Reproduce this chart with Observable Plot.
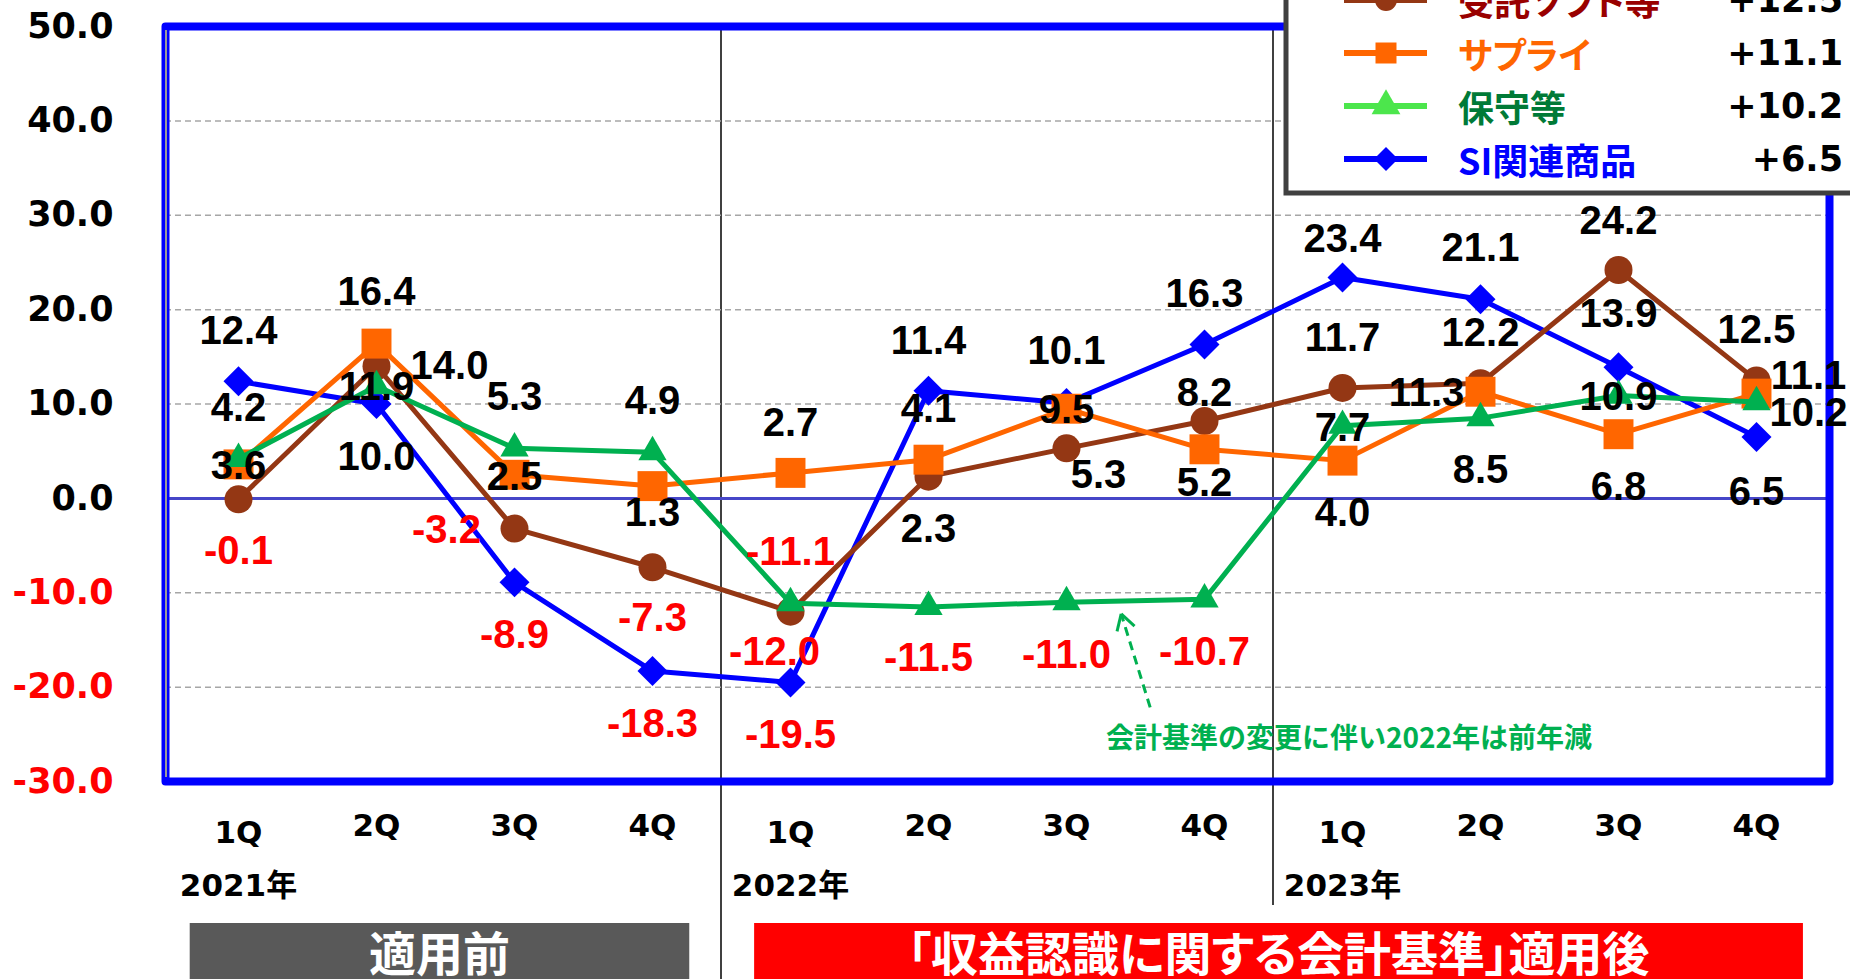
<!DOCTYPE html>
<html><head><meta charset="utf-8">
<script src="https://cdn.jsdelivr.net/npm/d3@7"></script>
<script src="https://cdn.jsdelivr.net/npm/@observablehq/plot@0.6"></script>
<style>
html,body{margin:0;padding:0;background:#fff;}
#chart{position:relative;width:1850px;height:979px;overflow:hidden;background:#fff;}
#chart svg{display:block;}
.palt{font-feature-settings:"palt" 1;}
</style></head><body><div id="chart"></div>
<script>
// ---------- data ----------
const years = ["2021年","2022年","2023年"];
const quarters = ["1Q","2Q","3Q","4Q"];
const seriesNames = ["受託ソフト等","サプライ","保守等","SI関連商品"];
const jutaku = [-0.1, 14.0, -3.2, -7.3, -12.0, 2.3, 5.3, 8.2, 11.7, 12.2, 24.2, 12.5];
const supply = [3.6, 16.4, 2.5, 1.3, 2.7, 4.1, 9.5, 5.2, 4.0, 11.3, 6.8, 11.1];
const hoshu  = [4.2, 11.9, 5.3, 4.9, -11.1, -11.5, -11.0, -10.7, 7.7, 8.5, 10.9, 10.2];
const siKanren = [12.4, 10.0, -8.9, -18.3, -19.5, 11.4, 10.1, 16.3, 23.4, 21.1, 13.9, 6.5];
const legendValues = ["+12.5","+11.1","+10.2","+6.5"];
const yTicks = [50, 40, 30, 20, 10, 0, -10, -20, -30];
const gridTicks = [40, 30, 20, 10, -10, -20];
const phaseLabels = ["適用前","「収益認識に関する会計基準」適用後"];
const noteText = "会計基準の変更に伴い2022年は前年減";

// ---------- styling / label placement (pixels) ----------
const lineColors = ["#943714","#ff6600","#00b050","#0000ff"];
const legendLineColors = ["#943714","#ff6600","#4ce64c","#0000ff"];
const legendTextColors = ["#990000","#ff6600","#007a37","#0000ff"];
const symbols = ["circle","square","triangle","diamond2"];
const symbolR = [14, 16.9, 10.5, 13.5];
const labelOffsets = [
  [[0,52],[73,0],[-68,2],[0,51],[-16,41],[0,53],[32,27],[0,-28],[0,-50],[0,-50],[0,-49],[0,-50]],
  [[0,2],[0,-51],[0,2],[0,27],[0,-50],[0,-50],[0,1],[0,34],[0,53],[-54,1],[0,53],[52,-17]],
  [[0,-51],[0,1],[0,-51],[0,-51],[0,-51],[0,51],[0,53],[0,53],[0,2],[0,52],[0,2],[52,11]],
  [[0,-50],[0,53],[0,53],[0,53],[0,53],[0,-50],[0,-52],[0,-50],[0,-38],[0,-51],[0,-53],[0,55]]
];

const W = 1850, H = 979;
const cats = years.flatMap(y => quarters.map(q => y + q));
const seriesValues = [jutaku, supply, hoshu, siKanren];
const rowsBySeries = seriesValues.map((vals, s) =>
  vals.map((v, i) => ({key: cats[i], q: quarters[i % 4], value: v, series: seriesNames[s], i})));
const catRows = cats.map((k, i) => ({key: k, q: quarters[i % 4], i}));
const yearRows = years.map((y, j) => ({key: cats[j * 4], year: y}));

const numFont = "'DejaVu Sans', Verdana, sans-serif";
const lblFont = "'Liberation Sans', Arial, sans-serif";
const jpFont = "'Noto Sans CJK JP', sans-serif";

const marks = [];
marks.push(Plot.ruleY(gridTicks, {stroke: "#a6a6a6", strokeWidth: 1.5, strokeDasharray: "6,4"}));
marks.push(Plot.ruleY([0], {stroke: "#4646c8", strokeWidth: 3}));
const drawOrder = [3, 0, 1, 2];
for (const s of drawOrder) {
  marks.push(Plot.line(rowsBySeries[s], {x: "key", y: "value", stroke: lineColors[s], strokeWidth: 5, strokeLinejoin: "round"}));
  marks.push(Plot.dot(rowsBySeries[s], {x: "key", y: "value", symbol: symbols[s], r: symbolR[s], fill: lineColors[s], stroke: "none"}));
}
marks.push(Plot.frame({stroke: "#0000ff", strokeWidth: 8, strokeLinejoin: "round"}));
// y tick labels
marks.push(Plot.text(yTicks, {y: d => d, text: d => d.toFixed(1), frameAnchor: "left", textAnchor: "end", dx: -52,
  fill: d => d < 0 ? "#ff0000" : "#000000", fontSize: 35, fontWeight: "bold", fontFamily: numFont}));
// quarter labels
marks.push(Plot.text(catRows.filter(d => d.q === "1Q"), {x: "key", text: "q", frameAnchor: "bottom", dy: 61,
  fill: "#000", fontSize: 31, fontWeight: "bold", fontFamily: numFont}));
marks.push(Plot.text(catRows.filter(d => d.q !== "1Q"), {x: "key", text: "q", frameAnchor: "bottom", dy: 54,
  fill: "#000", fontSize: 31, fontWeight: "bold", fontFamily: numFont}));
// year labels
marks.push(Plot.text(yearRows, {x: "key", text: "year", frameAnchor: "bottom", dy: 114,
  fill: "#000", fontSize: 31, fontWeight: "bold", fontFamily: numFont + ", " + jpFont}));
// data labels
for (const s of [0, 1, 2, 3]) {
  rowsBySeries[s].forEach((r, i) => {
    const [dx, dy] = labelOffsets[s][i];
    marks.push(Plot.text([r], {x: "key", y: "value", text: d => d.value.toFixed(1), dx, dy,
      fill: r.value < 0 ? "#ff0000" : "#000000", fontSize: 40, fontWeight: "bold", fontFamily: lblFont}));
  });
}

const chart = Plot.plot({
  width: W, height: H,
  marginLeft: 165, marginRight: 21, marginTop: 26, marginBottom: 198,
  x: {type: "point", domain: cats, padding: 0.5, axis: null},
  y: {domain: [-30, 50], axis: null},
  style: {background: "#fff", fontFamily: numFont},
  marks
});
document.getElementById("chart").appendChild(chart);

// ---------- overlays positioned through the plot's scales ----------
const sx = chart.scale("x"), sy = chart.scale("y");
const xPos = sx.apply ? (v => sx.apply(v)) : d3.scalePoint(sx.domain, sx.range).padding(0.5);
const yPos = sy.apply ? (v => sy.apply(v)) : d3.scaleLinear(sy.domain, sy.range);
const step = xPos(cats[1]) - xPos(cats[0]);
const svg = d3.select(chart);
const frameTop = yPos(50), frameBottom = yPos(-30), frameLeft = 165;

// separators (beneath data)
const under = svg.insert("g", "g");
const sep1 = (xPos(cats[3]) + xPos(cats[4])) / 2;
const sep2 = (xPos(cats[7]) + xPos(cats[8])) / 2;
under.append("line").attr("x1", sep1).attr("x2", sep1).attr("y1", frameTop).attr("y2", H).attr("stroke", "#000").attr("stroke-width", 1.5);
under.append("line").attr("x1", sep2).attr("x2", sep2).attr("y1", frameTop).attr("y2", frameBottom + 124).attr("stroke", "#000").attr("stroke-width", 1.5);

const over = svg.append("g").attr("text-anchor", "start");
// inner grey axis line
over.append("line").attr("x1", frameLeft + 1).attr("x2", frameLeft + 1).attr("y1", frameTop + 4).attr("y2", frameBottom - 4).attr("stroke", "#9a9a9a").attr("stroke-width", 2);

// annotation arrow
const tipX = xPos(cats[6]) + 0.4 * step, tipY = yPos(-12.3);
const tailX = xPos(cats[6]) + 0.61 * step, tailY = yPos(-22.2);
over.append("line").attr("x1", tailX).attr("y1", tailY).attr("x2", tipX).attr("y2", tipY)
  .attr("stroke", "#00b050").attr("stroke-width", 3).attr("stroke-dasharray", "9,6");
const ang = Math.atan2(tipY - tailY, tipX - tailX);
for (const da of [Math.PI * 0.83, -Math.PI * 0.83]) {
  over.append("line").attr("x1", tipX).attr("y1", tipY)
    .attr("x2", tipX + 18 * Math.cos(ang + da)).attr("y2", tipY + 18 * Math.sin(ang + da))
    .attr("stroke", "#00b050").attr("stroke-width", 3);
}
over.append("text").attr("x", xPos(cats[8]) + 7).attr("y", yPos(-25.2)).attr("text-anchor", "middle")
  .attr("dominant-baseline", "central").attr("fill", "#00b050").attr("font-size", 28).attr("font-weight", "bold")
  .attr("font-family", jpFont).text(noteText);

// phase boxes
const boxes = [
  {x0: xPos(cats[0]) - 0.35 * step, x1: xPos(cats[3]) + 0.27 * step, fill: "#595959", text: phaseLabels[0], fs: 47},
  {x0: xPos(cats[4]) - 0.26 * step, x1: xPos(cats[11]) + 0.34 * step, fill: "#ff0000", text: phaseLabels[1], fs: 47}
];
for (const b of boxes) {
  over.append("rect").attr("x", b.x0).attr("y", frameBottom + 142).attr("width", b.x1 - b.x0).attr("height", 70).attr("fill", b.fill);
  over.append("text").attr("class", "palt").attr("x", (b.x0 + b.x1) / 2).attr("y", frameBottom + 169).attr("text-anchor", "middle")
    .attr("dominant-baseline", "central").attr("fill", "#fff").attr("font-size", b.fs).attr("font-weight", "bold")
    .attr("font-family", jpFont).text(b.text);
}

// legend
const lg = svg.append("g").attr("text-anchor", "start");
lg.append("rect").attr("x", 1286).attr("y", -40).attr("width", 620).attr("height", 233)
  .attr("fill", "#fff").attr("stroke", "#404040").attr("stroke-width", 5);
const rowY = [0, 53, 106, 159];
const legSym = [[d3.symbolCircle, 380], [d3.symbolSquare, 441], [d3.symbolTriangle, 360], [d3.symbolDiamond2, 368]];
seriesNames.forEach((name, i) => {
  const yy = rowY[i];
  lg.append("line").attr("x1", 1344).attr("x2", 1427).attr("y1", yy).attr("y2", yy)
    .attr("stroke", legendLineColors[i]).attr("stroke-width", 6);
  lg.append("path").attr("d", d3.symbol(legSym[i][0], legSym[i][1])()).attr("transform", `translate(1386,${yy})`)
    .attr("fill", legendLineColors[i]);
  lg.append("text").attr("class", "palt").attr("x", 1458).attr("y", yy).attr("dominant-baseline", "central").attr("text-anchor", "start")
    .attr("fill", legendTextColors[i]).attr("font-size", 36).attr("font-weight", "bold").attr("font-family", jpFont).text(name);
  lg.append("text").attr("x", 1843).attr("y", yy).attr("dominant-baseline", "central").attr("text-anchor", "end")
    .attr("fill", "#000").attr("font-size", 35).attr("font-weight", "bold").attr("font-family", numFont).text(legendValues[i]);
});
</script>
</body></html>
